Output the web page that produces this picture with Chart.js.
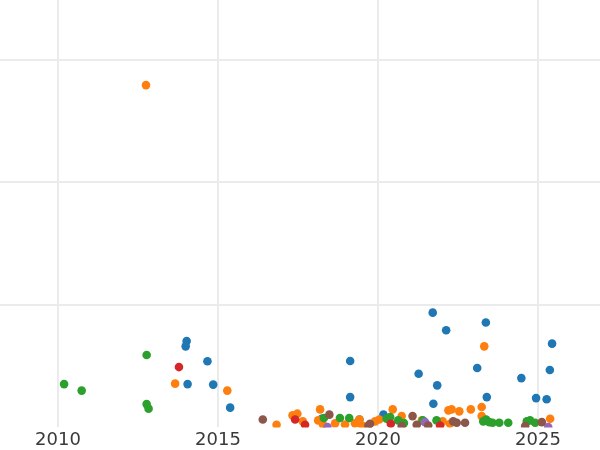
<!DOCTYPE html>
<html>
<head>
<meta charset="utf-8">
<script src="https://cdn.jsdelivr.net/npm/chart.js@4.4.1/dist/chart.umd.min.js"></script>
<style>
  html, body { margin: 0; padding: 0; background: #fff; }
</style>
</head>
<body>
<canvas id="myChart" width="600" height="450"></canvas>
<script>
// series data: x = year, y = value
let blueX = [2014.02, 2013.99, 2014.05, 2014.67, 2014.85, 2015.38, 2018.24, 2019.13, 2019.13, 2019.42, 2020.17, 2021.73, 2021.71, 2022.13, 2023.37, 2021.27, 2021.85, 2023.10, 2023.40, 2024.48, 2024.94, 2025.27, 2025.37, 2025.44];
let blueY = [70.4, 66.1, 35.3, 53.9, 34.9, 16.1, 7.1, 54.1, 24.7, 6.5, 10.4, 19.3, 93.6, 79.2, 85.5, 43.8, 34.3, 48.4, 24.7, 40.2, 23.9, 22.9, 46.8, 68.3];

let orangeX = [2012.75, 2013.66, 2015.29, 2016.83, 2017.33, 2017.48, 2017.65, 2018.19, 2018.13, 2018.28, 2018.66, 2018.97, 2019.28, 2019.42, 2019.50, 2019.91, 2020.04, 2020.46, 2020.74, 2021.37, 2022.02, 2022.20, 2022.30, 2022.54, 2022.25, 2022.90, 2023.24, 2023.24, 2023.32, 2025.38];
let orangeY = [279.2, 35.7, 30.0, 2.2, 9.8, 11.2, 4.9, 14.7, 5.7, 2.4, 3.3, 2.4, 3.3, 6.5, 1.6, 4.9, 6.5, 14.7, 9.2, 5.7, 4.9, 13.9, 14.7, 13.1, 3.0, 14.7, 16.6, 9.2, 66.1, 7.1];

let greenX = [2010.19, 2010.74, 2012.77, 2012.77, 2012.83, 2018.31, 2018.81, 2019.10, 2020.27, 2020.38, 2020.63, 2020.81, 2021.40, 2021.83, 2023.29, 2023.38, 2023.48, 2023.58, 2023.79, 2024.07, 2024.65, 2024.75, 2024.91];
let greenY = [35.3, 30.0, 59.0, 19.0, 15.3, 7.6, 7.6, 7.6, 7.1, 8.4, 5.7, 3.5, 5.7, 5.7, 4.9, 6.5, 4.3, 3.8, 3.8, 3.8, 4.9, 5.7, 3.8];

let redX = [2013.78, 2017.41, 2017.72, 2020.40, 2021.94];
let redY = [49.2, 6.5, 2.2, 3.0, 1.6];

let purpleX = [2018.42, 2021.47, 2025.32];
let purpleY = [0.2, 4.3, 0.2];

let brownX = [2016.40, 2018.48, 2019.70, 2019.75, 2020.74, 2021.08, 2021.21, 2021.57, 2022.35, 2022.46, 2022.72, 2024.60, 2025.12];
let brownY = [6.5, 10.4, 1.6, 3.0, 1.1, 9.2, 2.2, 1.6, 4.9, 3.8, 3.8, 1.1, 4.3];

let xTicks = [2010, 2015, 2020, 2025];
let yGrid = [100, 200, 300];

function toPoints(xs, ys) {
	let pts = [];
	for(let i = 0; i < xs.length; i++) {
		pts.push({x: xs[i], y: ys[i]});
	}
	return pts;
}

function makeSet(label, xs, ys, color, order) {
	return {
		label: label,
		data: toPoints(xs, ys),
		backgroundColor: color,
		borderWidth: 0,
		pointRadius: 4.3,
		pointHoverRadius: 4.3,
		order: order,
		clip: 0
	};
}

let ctx = document.getElementById('myChart');
new Chart(ctx, {
	type: 'scatter',
	data: {
		datasets: [
			makeSet('A', blueX, blueY, '#1f77b4', 5),
			makeSet('B', orangeX, orangeY, '#ff7f0e', 4),
			makeSet('C', greenX, greenY, '#2ca02c', 3),
			makeSet('D', redX, redY, '#d62728', 2),
			makeSet('E', purpleX, purpleY, '#9467bd', 1),
			makeSet('F', brownX, brownY, '#8c564b', 0)
		]
	},
	options: {
		responsive: false,
		animation: false,
		layout: { padding: {top: 0, left: 0, right: 0, bottom: -3}, autoPadding: false },
		plugins: {
			legend: { display: false },
			tooltip: { enabled: false }
		},
		scales: {
			x: {
				type: 'linear',
				min: 2008.1875,
				max: 2026.9375,
				afterBuildTicks: (axis) => {
					axis.ticks = xTicks.map(v => ({value: v}));
				},
				border: { display: false },
				grid: { color: '#ebebeb', lineWidth: 2, drawTicks: false },
				ticks: {
					padding: 2,
					color: '#3a3a3a',
					font: { family: 'DejaVu Sans', size: 18 },
					callback: (v) => String(v)
				}
			},
			y: {
				min: 0,
				max: 348.6,
				afterBuildTicks: (axis) => {
					axis.ticks = yGrid.map(v => ({value: v}));
				},
				border: { display: false },
				grid: { color: '#ebebeb', lineWidth: 2, drawTicks: false },
				ticks: { display: false }
			}
		}
	}
});
</script>
</body>
</html>
